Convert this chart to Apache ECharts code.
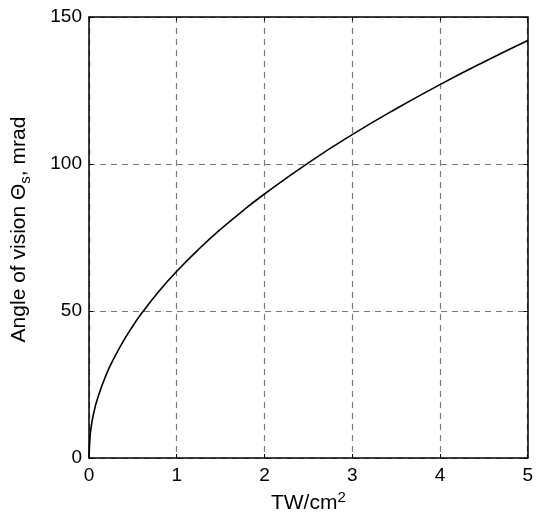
<!DOCTYPE html>
<html>
<head>
<meta charset="utf-8">
<script src="https://cdn.jsdelivr.net/npm/echarts@6/dist/echarts.min.js"></script>
<style>html,body{margin:0;padding:0;background:#fff}#c{width:536px;height:520px}</style>
</head>
<body>
<div id="c"></div>
<script>
const intensity = [0, 0.01, 0.02, 0.05, 0.1, 0.2, 0.3, 0.4, 0.5, 0.6, 0.8, 1, 1.25, 1.5, 1.75, 2, 2.5, 3, 3.5, 4, 4.5, 5];
const angle = [0, 6.5, 9.5, 14.8, 20.5, 28.6, 34.8, 40.2, 44.9, 49.2, 56.8, 63.5, 71, 77.8, 84, 89.8, 100.4, 110, 118.8, 127, 134.7, 142];
const xTicks = [0, 1, 2, 3, 4, 5];
const yTicks = [0, 50, 100, 150];

const font = 'Liberation Sans, Arial, Helvetica, sans-serif';
const chart = echarts.init(document.getElementById('c'), null, {renderer: 'canvas'});
const dashed = {show: true, lineStyle: {color: '#7a7a7a', type: [6, 5], width: 1.2}};
const frameLine = {show: true, onZero: false, lineStyle: {color: '#000', width: 1.5}};
const tick = {show: true, inside: true, length: 4, lineStyle: {color: '#000'}};
chart.setOption({
  animation: false,
  backgroundColor: '#fff',
  grid: {left: 89, right: 6, top: 17, bottom: 62},
  xAxis: [{
    type: 'value', min: xTicks[0], max: xTicks[xTicks.length - 1], interval: 1,
    axisLine: frameLine, axisTick: tick,
    axisLabel: {color: '#000', fontSize: 19, fontFamily: font, margin: 8},
    splitLine: dashed,
    name: 'TW/cm{sup|2}', nameLocation: 'middle', nameGap: 25,
    nameTextStyle: {color: '#000', fontSize: 21, fontFamily: font,
      rich: {sup: {fontSize: 15, fontFamily: font, color: '#000', verticalAlign: 'top', padding: [0, 0, 12, 0]}}}
  }, {
    type: 'value', position: 'top', min: xTicks[0], max: xTicks[xTicks.length - 1], interval: 1,
    axisLine: frameLine, axisTick: tick, axisLabel: {show: false}, splitLine: {show: false}
  }],
  yAxis: [{
    type: 'value', min: yTicks[0], max: yTicks[yTicks.length - 1], interval: 50,
    axisLine: frameLine, axisTick: tick,
    axisLabel: {color: '#000', fontSize: 19, fontFamily: font, margin: 7},
    splitLine: dashed,
    name: 'Angle of vision Θ{sub|s}, mrad', nameLocation: 'middle', nameGap: 56,
    nameTextStyle: {color: '#000', fontSize: 21, fontFamily: font, padding: [0, 0, 0, 16],
      rich: {sub: {fontSize: 15, fontFamily: font, color: '#000', padding: [12, 0, 0, 0]}}}
  }, {
    type: 'value', position: 'right', min: yTicks[0], max: yTicks[yTicks.length - 1], interval: 50,
    axisLine: frameLine, axisTick: tick, axisLabel: {show: false}, splitLine: {show: false}
  }],
  series: [{
    type: 'line', data: intensity.map((x, i) => [x, angle[i]]),
    smooth: true, showSymbol: false, lineStyle: {color: '#000', width: 1.6}
  }]
});
</script>
</body>
</html>
